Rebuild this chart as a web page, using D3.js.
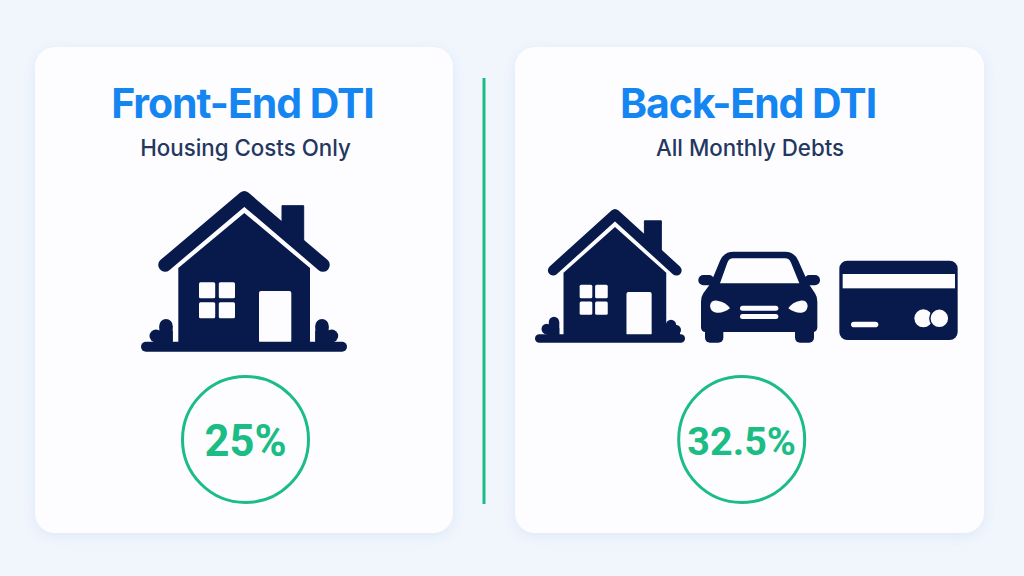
<!DOCTYPE html>
<html>
<head>
<meta charset="utf-8">
<script src="https://cdn.jsdelivr.net/npm/d3@7"></script>
<style>
  html, body { margin: 0; padding: 0; background: #f1f6fd; overflow: hidden; }
  svg { display: block; }
</style>
</head>
<body>
<div id="chart"></div>
<script>
// chart content
var titles = ["Front-End DTI", "Back-End DTI"];
var subtitles = ["Housing Costs Only", "All Monthly Debts"];
var dtiValues = [25, 32.5];

var width = 1024, height = 576;
var navy = "#081a4c", white = "#fdfdff", green = "#1cbc85", blue = "#1585f2";

// panel layout
var cards = [
    { x: 35, y: 47, w: 418, h: 486, title: 242.5, sub: 245.5, ring: 245.5, valueSize: 43.5 },
    { x: 515, y: 47, w: 469, h: 486, title: 748, sub: 750, ring: 741.7, valueSize: 39.5 }
];

var svg = d3.select("#chart").append("svg")
    .attr("width", width)
    .attr("height", height)
    .attr("viewBox", "0 0 " + width + " " + height);

var defs = svg.append("defs");
var shadow = defs.append("filter").attr("id", "soft")
    .attr("x", "-10%").attr("y", "-10%").attr("width", "120%").attr("height", "120%");
shadow.append("feDropShadow")
    .attr("dx", 0).attr("dy", 3).attr("stdDeviation", 7)
    .attr("flood-color", "#b9cde6").attr("flood-opacity", 0.35);

svg.append("g").selectAll("rect")
    .data(cards)
    .enter()
    .append("rect")
    .attr("x", d => d.x)
    .attr("y", d => d.y)
    .attr("width", d => d.w)
    .attr("height", d => d.h)
    .attr("rx", 20)
    .attr("fill", white)
    .attr("filter", "url(#soft)");

// divider
svg.append("line")
    .attr("x1", 484).attr("x2", 484)
    .attr("y1", 78).attr("y2", 504)
    .attr("stroke", green)
    .attr("stroke-width", 3);

// headings
svg.append("g").selectAll("text")
    .data(titles)
    .enter()
    .append("text")
    .attr("x", (d, i) => cards[i].title)
    .attr("y", 118)
    .attr("text-anchor", "middle")
    .attr("font-family", "Inter, sans-serif")
    .attr("font-weight", 650)
    .attr("font-size", 41)
    .attr("letter-spacing", -1.05)
    .attr("fill", blue)
    .text(d => d);

svg.append("g").selectAll("text")
    .data(subtitles)
    .enter()
    .append("text")
    .attr("x", (d, i) => cards[i].sub)
    .attr("y", 156)
    .attr("text-anchor", "middle")
    .attr("font-family", "Inter, sans-serif")
    .attr("font-weight", 500)
    .attr("font-size", 22.3)
    .attr("fill", "#24375f")
    .text(d => d);

// value rings
var rings = svg.append("g").selectAll("g")
    .data(dtiValues)
    .enter()
    .append("g")
    .attr("transform", (d, i) => "translate(" + cards[i].ring + ",439.5)");

rings.append("circle")
    .attr("r", 63)
    .attr("fill", "none")
    .attr("stroke", green)
    .attr("stroke-width", 3);

rings.append("text")
    .attr("y", (d, i) => cards[i].valueSize * 0.39)
    .attr("text-anchor", "middle")
    .attr("font-family", "Roboto, sans-serif")
    .attr("font-weight", 700)
    .attr("font-size", (d, i) => cards[i].valueSize)
    .attr("fill", green)
    .text(d => d + "%");

// house icon, drawn in the big house's own units then scaled
var line = d3.line();

function roundBox(g, x, y, x2, y2, r, fill) {
    g.append("rect")
        .attr("x", x).attr("y", y)
        .attr("width", x2 - x).attr("height", y2 - y)
        .attr("rx", r)
        .attr("fill", fill);
}

function drawHouse(opt) {
    var g = svg.append("g");
    var sx = d3.scaleLinear().domain([244.3, 344.3]).range([opt.cx, opt.cx + 100 * opt.kx]);
    var sy = d3.scaleLinear().domain([198, 298]).range([opt.cy, opt.cy + 100 * opt.ky]);
    var pt = p => [sx(p[0]), sy(p[1])];

    // chimney, stops on the roof
    g.append("path")
        .attr("d", line([[282, 205.7], [303.7, 205.7], [303.7, 243], [282, 226]].map(pt)) + "Z")
        .attr("fill", navy)
        .attr("stroke", navy)
        .attr("stroke-width", 1)
        .attr("stroke-linejoin", "round");
    // roof
    g.append("path")
        .attr("d", line([[165, 265], [244.3, 198], [323, 265]].map(pt)))
        .attr("fill", "none")
        .attr("stroke", navy)
        .attr("stroke-width", opt.roof)
        .attr("stroke-linecap", "round")
        .attr("stroke-linejoin", "round");
    // body
    g.append("path")
        .attr("d", line([[178.3, 268], [244.3, 213], [310, 268], [310, 345], [178.3, 345]].map(pt)) + "Z")
        .attr("fill", navy);

    // window panes
    [[199, 282.3], [218.8, 282.3], [199, 302.3], [218.8, 302.3]].forEach(function (p) {
        roundBox(g, sx(p[0]), sy(p[1]), sx(p[0] + 16.2), sy(p[1] + 16), 1.5, white);
    });
    // door
    roundBox(g, sx(259), sy(291), sx(291.3), sy(343), 2, white);

    // shrubs
    opt.shrubs.forEach(function (s) {
        g.append("circle").attr("cx", s[0]).attr("cy", s[1]).attr("r", s[2]).attr("fill", navy);
    });
    opt.shrubBlocks.forEach(function (b) {
        roundBox(g, b[0], b[1], b[2], opt.groundY + 1, 0, navy);
    });
    // ground
    roundBox(g, opt.ground[0], opt.groundY, opt.ground[1], opt.groundY + opt.groundH, opt.groundH / 2, navy);
}

drawHouse({
    cx: 244.3, cy: 198, kx: 1, ky: 1, roof: 13.5,
    ground: [141, 347], groundY: 341.7, groundH: 10,
    shrubs: [[166, 325.7, 6.7], [156, 336, 6.5], [322, 325.7, 6.7], [331.7, 336, 6.5]],
    shrubBlocks: [[159.3, 326, 172.7], [156, 331, 172.7], [315.3, 326, 328.7], [315.3, 331, 332]]
});

drawHouse({
    cx: 615, cy: 214.4, kx: 0.78, ky: 0.835, roof: 10.5,
    ground: [535, 685], groundY: 334.3, groundH: 8.5,
    shrubs: [[554, 322, 5.2], [546.7, 329, 5.2], [671, 325, 5.2], [676, 330, 5]],
    shrubBlocks: [[548.8, 322, 559.3], [546.7, 328, 559.3], [666, 325, 676.2], [666, 330, 680]]
});

// car and credit card, measured in a 3x crop whose corner sits at (690,240)
var ix = d3.scaleLinear().domain([0, 3]).range([690, 691]);
var iy = d3.scaleLinear().domain([0, 3]).range([240, 241]);

function tracePath(steps) {
    var p = d3.path();
    steps.forEach(function (s) {
        if (s[0] === "M") p.moveTo(ix(s[1]), iy(s[2]));
        if (s[0] === "L") p.lineTo(ix(s[1]), iy(s[2]));
        if (s[0] === "Q") p.quadraticCurveTo(ix(s[1]), iy(s[2]), ix(s[3]), iy(s[4]));
    });
    p.closePath();
    return p.toString();
}

function zoomBox(g, x, y, x2, y2, r, fill) {
    roundBox(g, ix(x), iy(y), ix(x2), iy(y2), r, fill);
}

var car = svg.append("g");
car.append("path")
    .attr("fill", navy)
    .attr("d", tracePath([
        ["M", 62, 130], ["L", 90, 62], ["Q", 102, 35, 130, 35], ["L", 285, 35],
        ["Q", 313, 35, 325, 62], ["L", 355, 130], ["L", 375, 160], ["Q", 382, 170, 382, 185],
        ["L", 382, 262], ["Q", 382, 276, 368, 276], ["L", 47, 276], ["Q", 33, 276, 33, 262], ["L", 33, 185],
        ["Q", 33, 170, 40, 160]
    ]));
car.append("path")
    .attr("fill", white)
    .attr("d", tracePath([
        ["M", 90, 130], ["L", 112, 68], ["Q", 117, 55, 130, 55], ["L", 285, 55],
        ["Q", 298, 55, 303, 68], ["L", 328, 130]
    ]));
zoomBox(car, 25, 105, 72, 136, 5, navy);
zoomBox(car, 343, 105, 390, 136, 5, navy);
zoomBox(car, 45, 260, 100, 308, 5, navy);
zoomBox(car, 315, 260, 372, 308, 5, navy);
car.append("path")
    .attr("fill", white)
    .attr("d", tracePath([
        ["M", 60, 198], ["Q", 62, 180, 82, 182], ["Q", 108, 186, 120, 205], ["Q", 100, 220, 80, 218],
        ["Q", 62, 216, 60, 198]
    ]));
car.append("path")
    .attr("fill", white)
    .attr("d", tracePath([
        ["M", 353, 198], ["Q", 351, 180, 331, 182], ["Q", 307, 186, 295, 205], ["Q", 315, 220, 335, 218],
        ["Q", 351, 216, 353, 198]
    ]));
zoomBox(car, 150, 197, 265, 212, 2.5, white);
zoomBox(car, 150, 222, 265, 237, 2.5, white);

var ccard = svg.append("g");
zoomBox(ccard, 448, 62, 803, 300, 8, navy);
zoomBox(ccard, 458, 102, 795, 145, 0, white);
zoomBox(ccard, 483, 245, 565, 262, 3, white);
ccard.append("circle").attr("cx", ix(700)).attr("cy", iy(235)).attr("r", 9).attr("fill", white);
ccard.append("circle").attr("cx", ix(748)).attr("cy", iy(235)).attr("r", 9.5)
    .attr("fill", white).attr("stroke", navy).attr("stroke-width", 1.5);
</script>
</body>
</html>
